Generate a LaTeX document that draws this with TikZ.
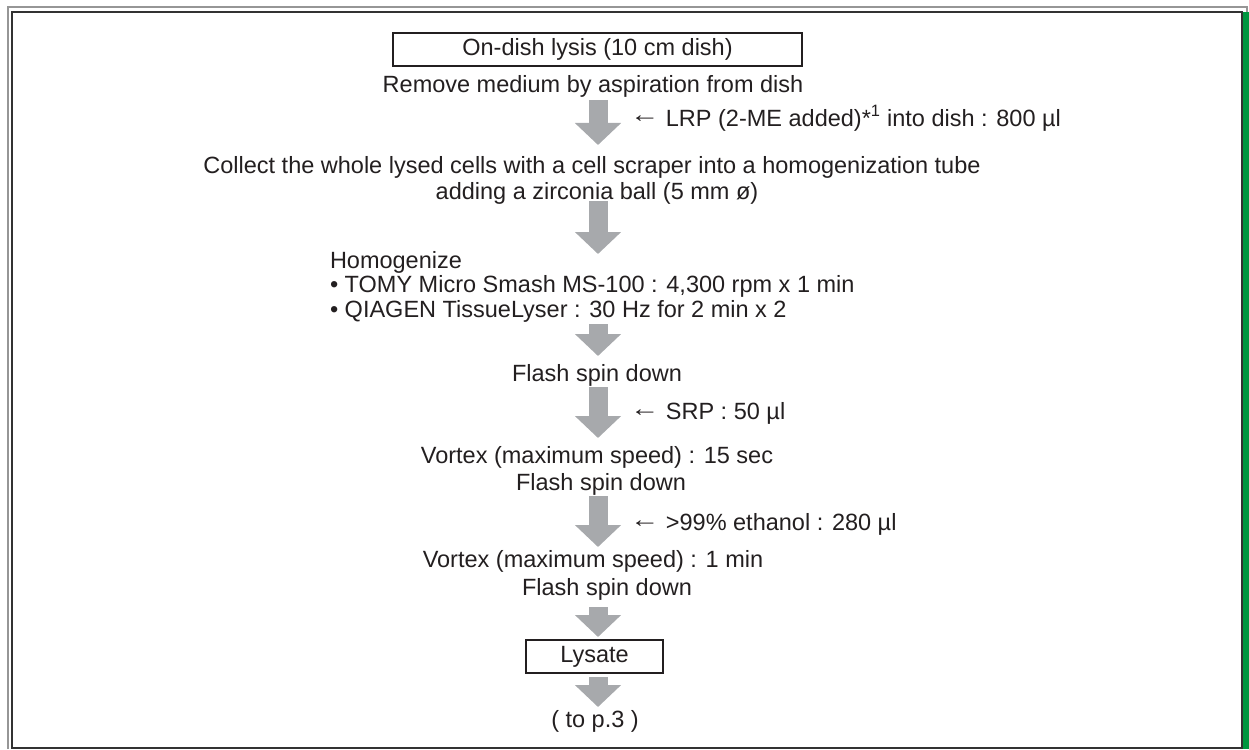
\documentclass[tikz,border=0pt]{standalone}
\usepackage{fontspec}
\usepackage{graphicx}
\setmainfont{Liberation Sans}
\usetikzlibrary{arrows.meta}
\definecolor{ink}{RGB}{35,31,32}
\definecolor{arrowgray}{RGB}{167,169,172}
\definecolor{framegray}{RGB}{150,150,150}
\definecolor{framedark}{RGB}{50,50,50}
\definecolor{bandgreen}{RGB}{0,150,64}
\newcommand{\addarrow}{\raisebox{3pt}{\scalebox{1.25}[1]{←}}}
\tikzset{
  txt/.style={inner sep=0pt, outer sep=0pt, text=ink, font=\fontsize{23.5}{26}\selectfont, anchor=base},
  txtl/.style={txt, anchor=base west},
  boxed/.style={draw=ink, line width=1.1pt, text=ink, font=\fontsize{23.5}{26}\selectfont, inner sep=0pt},
  blockarrow/.style={draw=arrowgray, line width=19pt, -{Triangle[width=45pt,length=22pt]}, arrowgray}
}
\begin{document}
\begin{tikzpicture}[x=1pt,y=-1pt]
\useasboundingbox (0,0) rectangle (1249,749);
% frame
\draw[framegray, line width=2pt] (8,749) -- (8,7) -- (1247,7) -- (1247,12);
\fill[bandgreen] (1243,12) rectangle (1249,749);
\draw[framedark, line width=1.6pt] (12,12) rectangle (1242,748);
% title box
\node[boxed, minimum width=409pt, minimum height=33pt] (title) at (597.5,49.5) {On-dish lysis (10 cm dish)};
\node[txt] (remove) at (593,93) {Remove medium by aspiration from dish};
\node[txtl] (lrp) at (630,126) {\addarrow\ LRP (2-ME added)*\textsuperscript{1} into dish : 800 µl};
\node[txt] (collect) at (592,173) {Collect the whole lysed cells with a cell scraper into a homogenization tube};
\node[txt] (adding) at (597,199) {adding a zirconia ball (5 mm ø)};
\node[txtl] (homog) at (330,268) {Homogenize};
\node[txtl] (tomy) at (330,292) {• TOMY Micro Smash MS-100 : 4,300 rpm x 1 min};
\node[txtl] (qiagen) at (330,317) {• QIAGEN TissueLyser : 30 Hz for 2 min x 2};
\node[txt] (flash1) at (597,381) {Flash spin down};
\node[txtl] (srp) at (630,419) {\addarrow\ SRP : 50 µl};
\node[txt] (vortex1) at (597,463) {Vortex (maximum speed) : 15 sec};
\node[txt] (flash2) at (601,490) {Flash spin down};
\node[txtl] (eth) at (630,530) {\addarrow\ >99\% ethanol : 280 µl};
\node[txt] (vortex2) at (593,567) {Vortex (maximum speed) : 1 min};
\node[txt] (flash3) at (607,595) {Flash spin down};
\node[boxed, minimum width=137pt, minimum height=33pt] (lysate) at (594.5,656.5) {Lysate};
\node[txt] (top3) at (595,727) {( to p.3 )};
% arrow coordinates
\coordinate (a1s) at (598,100); \coordinate (a1e) at (598,145);
\coordinate (a2s) at (598,201); \coordinate (a2e) at (598,254);
\coordinate (a3s) at (598,324); \coordinate (a3e) at (598,356);
\coordinate (a4s) at (598,387); \coordinate (a4e) at (598,438);
\coordinate (a5s) at (598,496); \coordinate (a5e) at (598,547);
\coordinate (a6s) at (598,607); \coordinate (a6e) at (598,637);
\coordinate (a7s) at (598,677); \coordinate (a7e) at (598,707);
\foreach \i in {1,...,7} { \draw[blockarrow] (a\i s) -- (a\i e); }
\end{tikzpicture}
\end{document}
